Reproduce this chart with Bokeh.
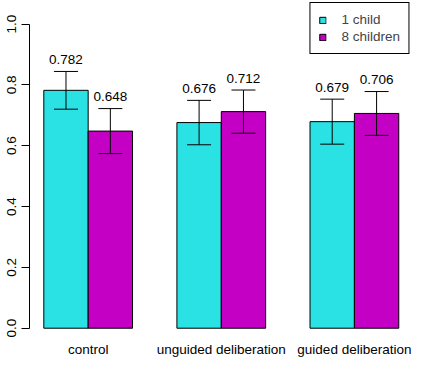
from bokeh.plotting import figure
from bokeh.models import ColumnDataSource, Whisker, TeeHead, Range1d, FixedTicker, NumeralTickFormatter, Legend, LegendItem
from bokeh.core.properties import value
from bokeh.embed import file_html
from bokeh.resources import INLINE

categories = ["control", "unguided deliberation", "guided deliberation"]
series_names = ["1 child", "8 children"]
one_child = [0.782, 0.676, 0.679]
eight_children = [0.648, 0.712, 0.706]
one_child_err = [0.062, 0.073, 0.074]
eight_children_err = [0.074, 0.071, 0.072]
y_ticks = [0.0, 0.2, 0.4, 0.6, 0.8, 1.0]

CYAN = "#2ae2e4"
MAGENTA = "#c400c4"
FONT = "Liberation Sans"
FS = "13.5px"

# R barplot-style positions: each group occupies 2 bar units plus 1 unit gap
g_start = [1 + 3 * i for i in range(len(categories))]
x1 = [s + 0.5 for s in g_start]
x2 = [s + 1.5 for s in g_start]
centers = [s + 1.0 for s in g_start]

def make_src(xs, vals, errs):
    return ColumnDataSource(dict(
        x=xs, top=vals,
        upper=[v + e for v, e in zip(vals, errs)],
        lower=[v - e for v, e in zip(vals, errs)],
        label=["%.3f" % v for v in vals]))

src1 = make_src(x1, one_child, one_child_err)
src2 = make_src(x2, eight_children, eight_children_err)

p = figure(width=411, height=360, output_backend="svg", toolbar_location=None,
           x_range=Range1d(0.6777, 9.287), y_range=Range1d(-0.0207, 1.0773),
           min_border_left=29, min_border_right=0, min_border_top=0, min_border_bottom=26)
p.outline_line_color = None
p.xgrid.visible = False
p.ygrid.visible = False

r1 = p.vbar(x="x", top="top", bottom=0, width=1.0, source=src1,
            fill_color=CYAN, line_color="black", line_width=1)
r2 = p.vbar(x="x", top="top", bottom=0, width=1.0, source=src2,
            fill_color=MAGENTA, line_color="black", line_width=1)

for src in (src1, src2):
    w = Whisker(base="x", upper="upper", lower="lower", source=src, level="overlay",
                line_color="black", line_width=1,
                upper_head=TeeHead(size=24, line_color="black", line_width=1),
                lower_head=TeeHead(size=24, line_color="black", line_width=1))
    p.add_layout(w)
    p.text(x="x", y="upper", text="label", source=src, text_align="center",
           text_baseline="middle", y_offset=-12, text_font_size=FS,
           text_font=value(FONT), text_color="black")

# y axis
p.yaxis.ticker = FixedTicker(ticks=y_ticks)
p.yaxis.formatter = NumeralTickFormatter(format="0.0")
p.yaxis.bounds = (0, 1)
p.yaxis.minor_tick_line_color = None
p.yaxis.major_tick_in = 0
p.yaxis.major_tick_out = 8
p.yaxis.major_label_orientation = "vertical"
p.yaxis.major_label_standoff = 5
p.yaxis.major_label_text_font = FONT
p.yaxis.major_label_text_font_size = FS
p.yaxis.major_label_text_color = "black"
p.yaxis.axis_line_color = "black"
p.yaxis.major_tick_line_color = "black"

# x axis (category labels only)
p.xaxis.ticker = FixedTicker(ticks=centers)
p.xaxis.major_label_overrides = {c: lab for c, lab in zip(centers, categories)}
p.xaxis.axis_line_color = None
p.xaxis.major_tick_line_color = None
p.xaxis.minor_tick_line_color = None
p.xaxis.major_tick_out = 0
p.xaxis.major_tick_in = 0
p.xaxis.major_label_standoff = 7
p.xaxis.major_label_text_font = FONT
p.xaxis.major_label_text_font_size = FS
p.xaxis.major_label_text_color = "black"

legend = Legend(items=[LegendItem(label=series_names[0], renderers=[r1]),
                       LegendItem(label=series_names[1], renderers=[r2])],
                location="top_right", margin=2, padding=8, spacing=0,
                glyph_width=8, glyph_height=8, label_standoff=15,
                label_height=17, label_text_font=FONT, label_text_font_size=FS,
                border_line_color="black", border_line_width=1, border_line_alpha=1.0,
                background_fill_alpha=1.0)
p.add_layout(legend)

open("out.html", "w").write(file_html(p, INLINE))
